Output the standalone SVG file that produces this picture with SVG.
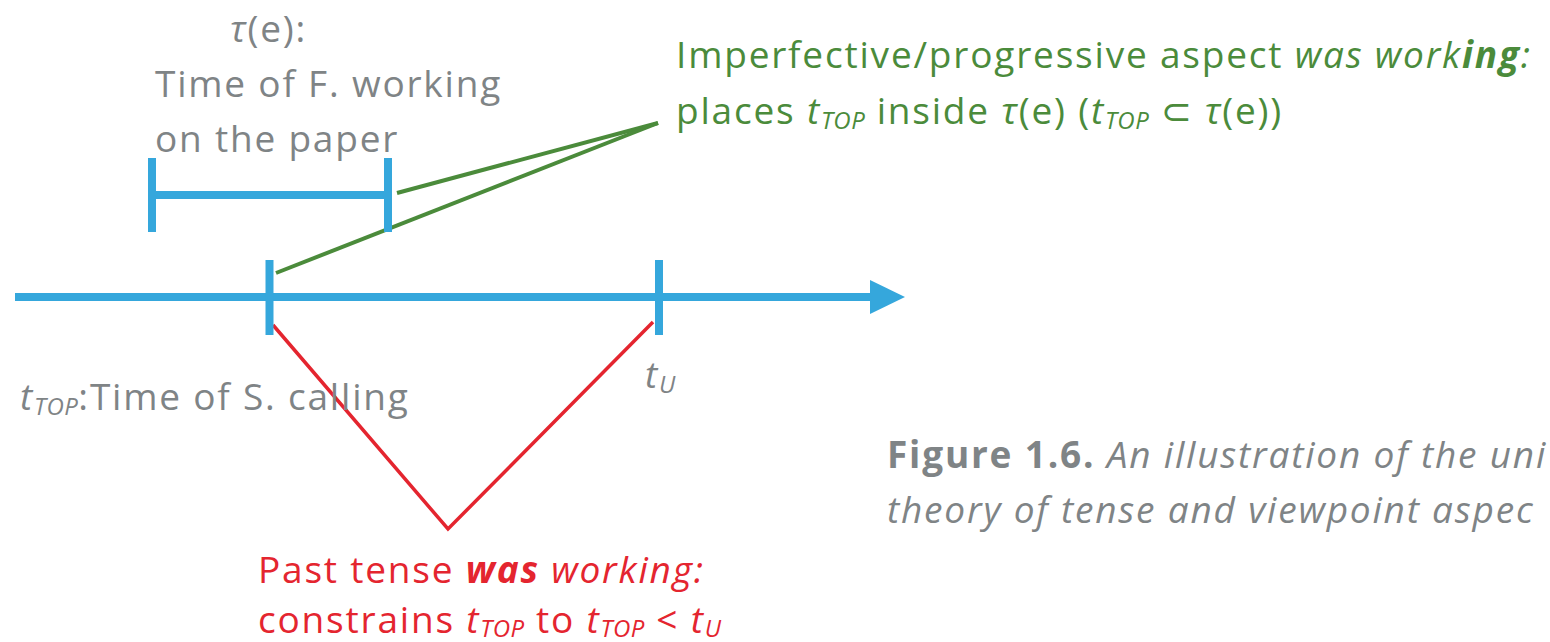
<svg xmlns="http://www.w3.org/2000/svg" width="1550" height="642" viewBox="0 0 1550 642">
<style>
text{font-family:"Open Sans","DejaVu Sans",sans-serif;font-size:37px;letter-spacing:1.8px}
.g{fill:#7f8486}
.gr{fill:#4b8b3b}
.r{fill:#e4252f}
.i{font-style:italic}
.b{font-weight:bold}
.s{font-size:24px;font-style:italic;letter-spacing:0.5px}
.blue{stroke:#35a7dc;stroke-width:8;fill:none}
.gl{stroke:#4b8b3b;stroke-width:4;fill:none}
.rl{stroke:#e4252f;stroke-width:3.5;fill:none}
</style>
<g id="connectors">
<line class="gl" x1="397" y1="193" x2="658" y2="123"/>
<line class="gl" x1="276" y1="273" x2="658" y2="123"/>
<polyline class="rl" points="273,325 448,529 653,322"/>
</g>
<g id="timeline">
<line class="blue" x1="15" y1="297" x2="872" y2="297"/>
<polygon points="870,280 905,297 870,314" fill="#35a7dc"/>
</g>
<g id="tick-ttop">
<line class="blue" x1="269.5" y1="260" x2="269.5" y2="335"/>
</g>
<g id="tick-tu">
<line class="blue" x1="659" y1="260" x2="659" y2="335"/>
</g>
<g id="interval">
<line class="blue" x1="152" y1="158" x2="152" y2="232"/>
<line class="blue" x1="388" y1="158" x2="388" y2="232"/>
<line class="blue" x1="152" y1="195" x2="388" y2="195"/>
</g>
<g id="label-event">
<text class="g" x="230" y="42"><tspan class="i">τ</tspan>(e):</text>
<text class="g" x="155" y="97">Time of F. working</text>
<text class="g" x="155" y="152">on the paper</text>
</g>
<g id="label-ttop">
<text class="g" x="20" y="410"><tspan class="i">t</tspan><tspan class="s" dy="5">TOP</tspan><tspan dy="-5">:Time of S. calling</tspan></text>
</g>
<g id="label-tu">
<text class="g" x="645" y="388"><tspan class="i">t</tspan><tspan class="s" dy="5">U</tspan></text>
</g>
<g id="label-aspect">
<text class="gr" x="676" y="68">Imperfective/progressive aspect <tspan class="i">was work</tspan><tspan class="i b">ing</tspan><tspan class="i">:</tspan></text>
<text class="gr" x="676" y="124">places <tspan class="i">t</tspan><tspan class="s" dy="5">TOP</tspan><tspan dy="-5"> inside </tspan><tspan class="i">τ</tspan>(e) (<tspan class="i">t</tspan><tspan class="s" dy="5">TOP</tspan><tspan dy="-5"> ⊂ </tspan><tspan class="i">τ</tspan>(e))</text>
</g>
<g id="label-tense">
<text class="r" x="258" y="583">Past tense <tspan class="i b">was</tspan><tspan class="i"> working:</tspan></text>
<text class="r" x="258" y="633">constrains <tspan class="i">t</tspan><tspan class="s" dy="4">TOP</tspan><tspan dy="-4"> to </tspan><tspan class="i">t</tspan><tspan class="s" dy="4">TOP</tspan><tspan dy="-4"> &lt; </tspan><tspan class="i">t</tspan><tspan class="s" dy="4">U</tspan></text>
</g>
<g id="caption">
<text class="g" x="887" y="468"><tspan class="b">Figure 1.6.</tspan><tspan class="i"> An illustration of the uni</tspan></text>
<text class="g i" x="887" y="523">theory of tense and viewpoint aspec</text>
</g>
</svg>
